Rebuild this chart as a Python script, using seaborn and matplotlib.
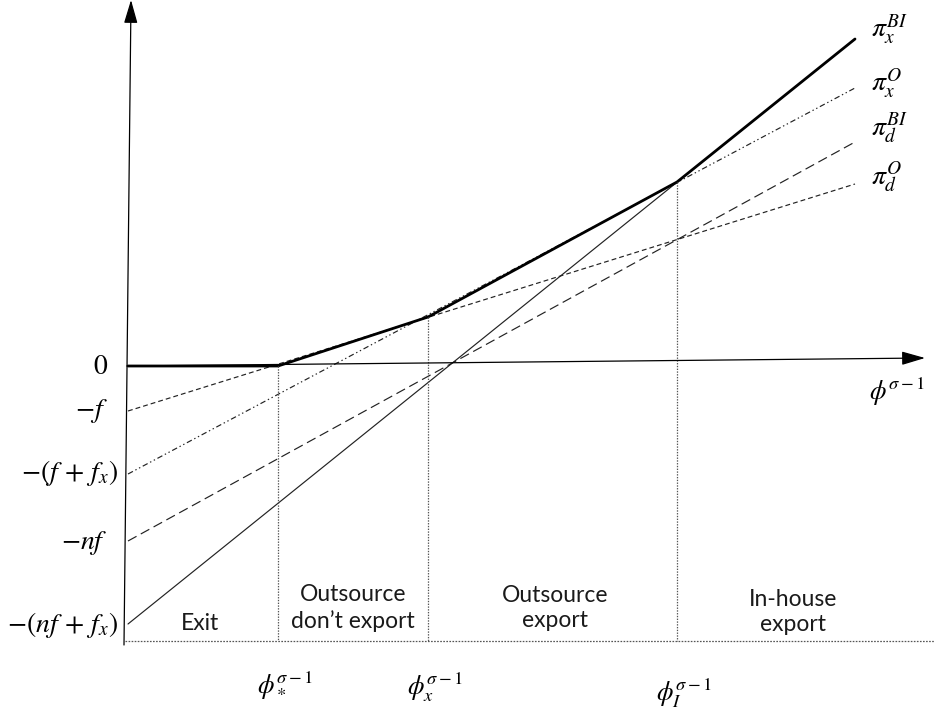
import matplotlib
matplotlib.use("Agg")
import matplotlib.pyplot as plt
import seaborn as sns
import pandas as pd

# ---- data (abstract units: x = phi^(sigma-1), y = profit) ----
x_span = [0.0, 7.27]
pi_d_O = [-0.45, 1.82]      # short dashed
pi_x_O = [-1.08, 2.78]      # dash-dot
pi_d_BI = [-1.75, 2.24]     # long dashed
pi_x_BI = [-2.58, 3.27]     # thin solid

env_x = [0.0, 1.50, 3.00, 5.49, 7.27]
env_y = [0.0, 0.0, 0.49, 1.84, 3.27]

thresholds = [1.50, 3.00, 5.49]
threshold_tops = [0.0, 0.49, 1.84]
threshold_labels = [r'$\phi_*^{\sigma-1}$', r'$\phi_x^{\sigma-1}$', r'$\phi_I^{\sigma-1}$']

intercept_labels = [r'$0$', r'$-f$', r'$-(f\,+\,f_x)$', r'$-nf$', r'$-(nf\,+\,f_x)$']
intercept_values = [0.0, -0.45, -1.07, -1.77, -2.59]

line_labels = [r'$\pi_x^{BI}$', r'$\pi_x^{O}$', r'$\pi_d^{BI}$', r'$\pi_d^{O}$']
line_label_y = [3.36, 2.82, 2.38, 1.89]

regions = ['Exit', 'Outsource\ndon’t export', 'Outsource\nexport', 'In-house\nexport']
region_x = [0.72, 2.25, 4.27, 6.65]
region_y = [-2.57, -2.42, -2.42, -2.46]

bottom_y = -2.75

sns.set_theme(style="white")
plt.rcParams['font.family'] = ['Lato', 'DejaVu Sans']
plt.rcParams['mathtext.fontset'] = 'stix'
plt.rcParams['lines.scale_dashes'] = False

fig = plt.figure(figsize=(9.34, 7.09), dpi=100)
ax = fig.add_axes([0, 0, 1, 1])
ax.set_xlim(-1.28, 8.06)
ax.set_ylim(-3.43, 3.66)
ax.axis('off')

ink = '#222222'
lw_thin = 0.85

def seg(ys, **kw):
    df = pd.DataFrame({'x': x_span, 'y': ys})
    sns.lineplot(data=df, x='x', y='y', ax=ax, color=ink, lw=lw_thin,
                 legend=False, **kw)

# profit lines
ax.plot(x_span, pi_d_O, color=ink, lw=lw_thin, dashes=(3.5, 2.2))
ax.plot(x_span, pi_x_O, color=ink, lw=lw_thin, dashes=(4, 2, 1, 2, 1, 2))
ax.plot(x_span, pi_d_BI, color=ink, lw=lw_thin, dashes=(7, 3.5))
seg(pi_x_BI)

# upper envelope (thick)
env = pd.DataFrame({'x': env_x, 'y': env_y})
sns.lineplot(data=env, x='x', y='y', ax=ax, color='black', lw=2.0,
             legend=False, sort=False)

# vertical dotted threshold lines
for xt, yt in zip(thresholds, threshold_tops):
    ax.plot([xt, xt], [yt, bottom_y], color='#555555', lw=0.9,
            dashes=(1, 1))

# bottom dotted baseline
ax.plot([-0.03, 8.06], [bottom_y, bottom_y], color='#555555', lw=0.9,
        dashes=(1.2, 1))

# axes arrows
ax.annotate('', xy=(0.03, 3.66), xytext=(-0.04, -2.79),
            arrowprops=dict(arrowstyle='-|>,head_length=1.2,head_width=0.35',
                            color='black', lw=0.9, shrinkA=0, shrinkB=0))
ax.annotate('', xy=(7.97, 0.08), xytext=(-0.01, 0.0),
            arrowprops=dict(arrowstyle='-|>,head_length=1.2,head_width=0.35',
                            color='black', lw=0.9, shrinkA=0, shrinkB=0))

# intercept labels on y axis
for lab, yv in zip(intercept_labels, intercept_values):
    xr = -0.10 if ')' in lab else -0.20
    ax.text(xr, yv, lab, ha='right', va='center', fontsize=20, color='black')

# line labels at right
for lab, yv in zip(line_labels, line_label_y):
    ax.text(7.43, yv, lab, ha='left', va='center', fontsize=20, color='black')

# x axis label
ax.text(7.69, -0.26, r'$\phi^{\sigma-1}$', ha='center', va='center',
        fontsize=19, color='black')

# threshold labels
for xt, lab, dy in zip(thresholds, threshold_labels, [-3.19, -3.21, -3.27]):
    ax.text(xt + 0.07, dy, lab, ha='center', va='center', fontsize=19,
            color='black')

# region labels
for lab, xr, yr in zip(regions, region_x, region_y):
    ax.text(xr, yr, lab, ha='center', va='center', fontsize=16.5,
            color='#1a1a1a', linespacing=1.25)

fig.savefig('out.png', dpi=100)
